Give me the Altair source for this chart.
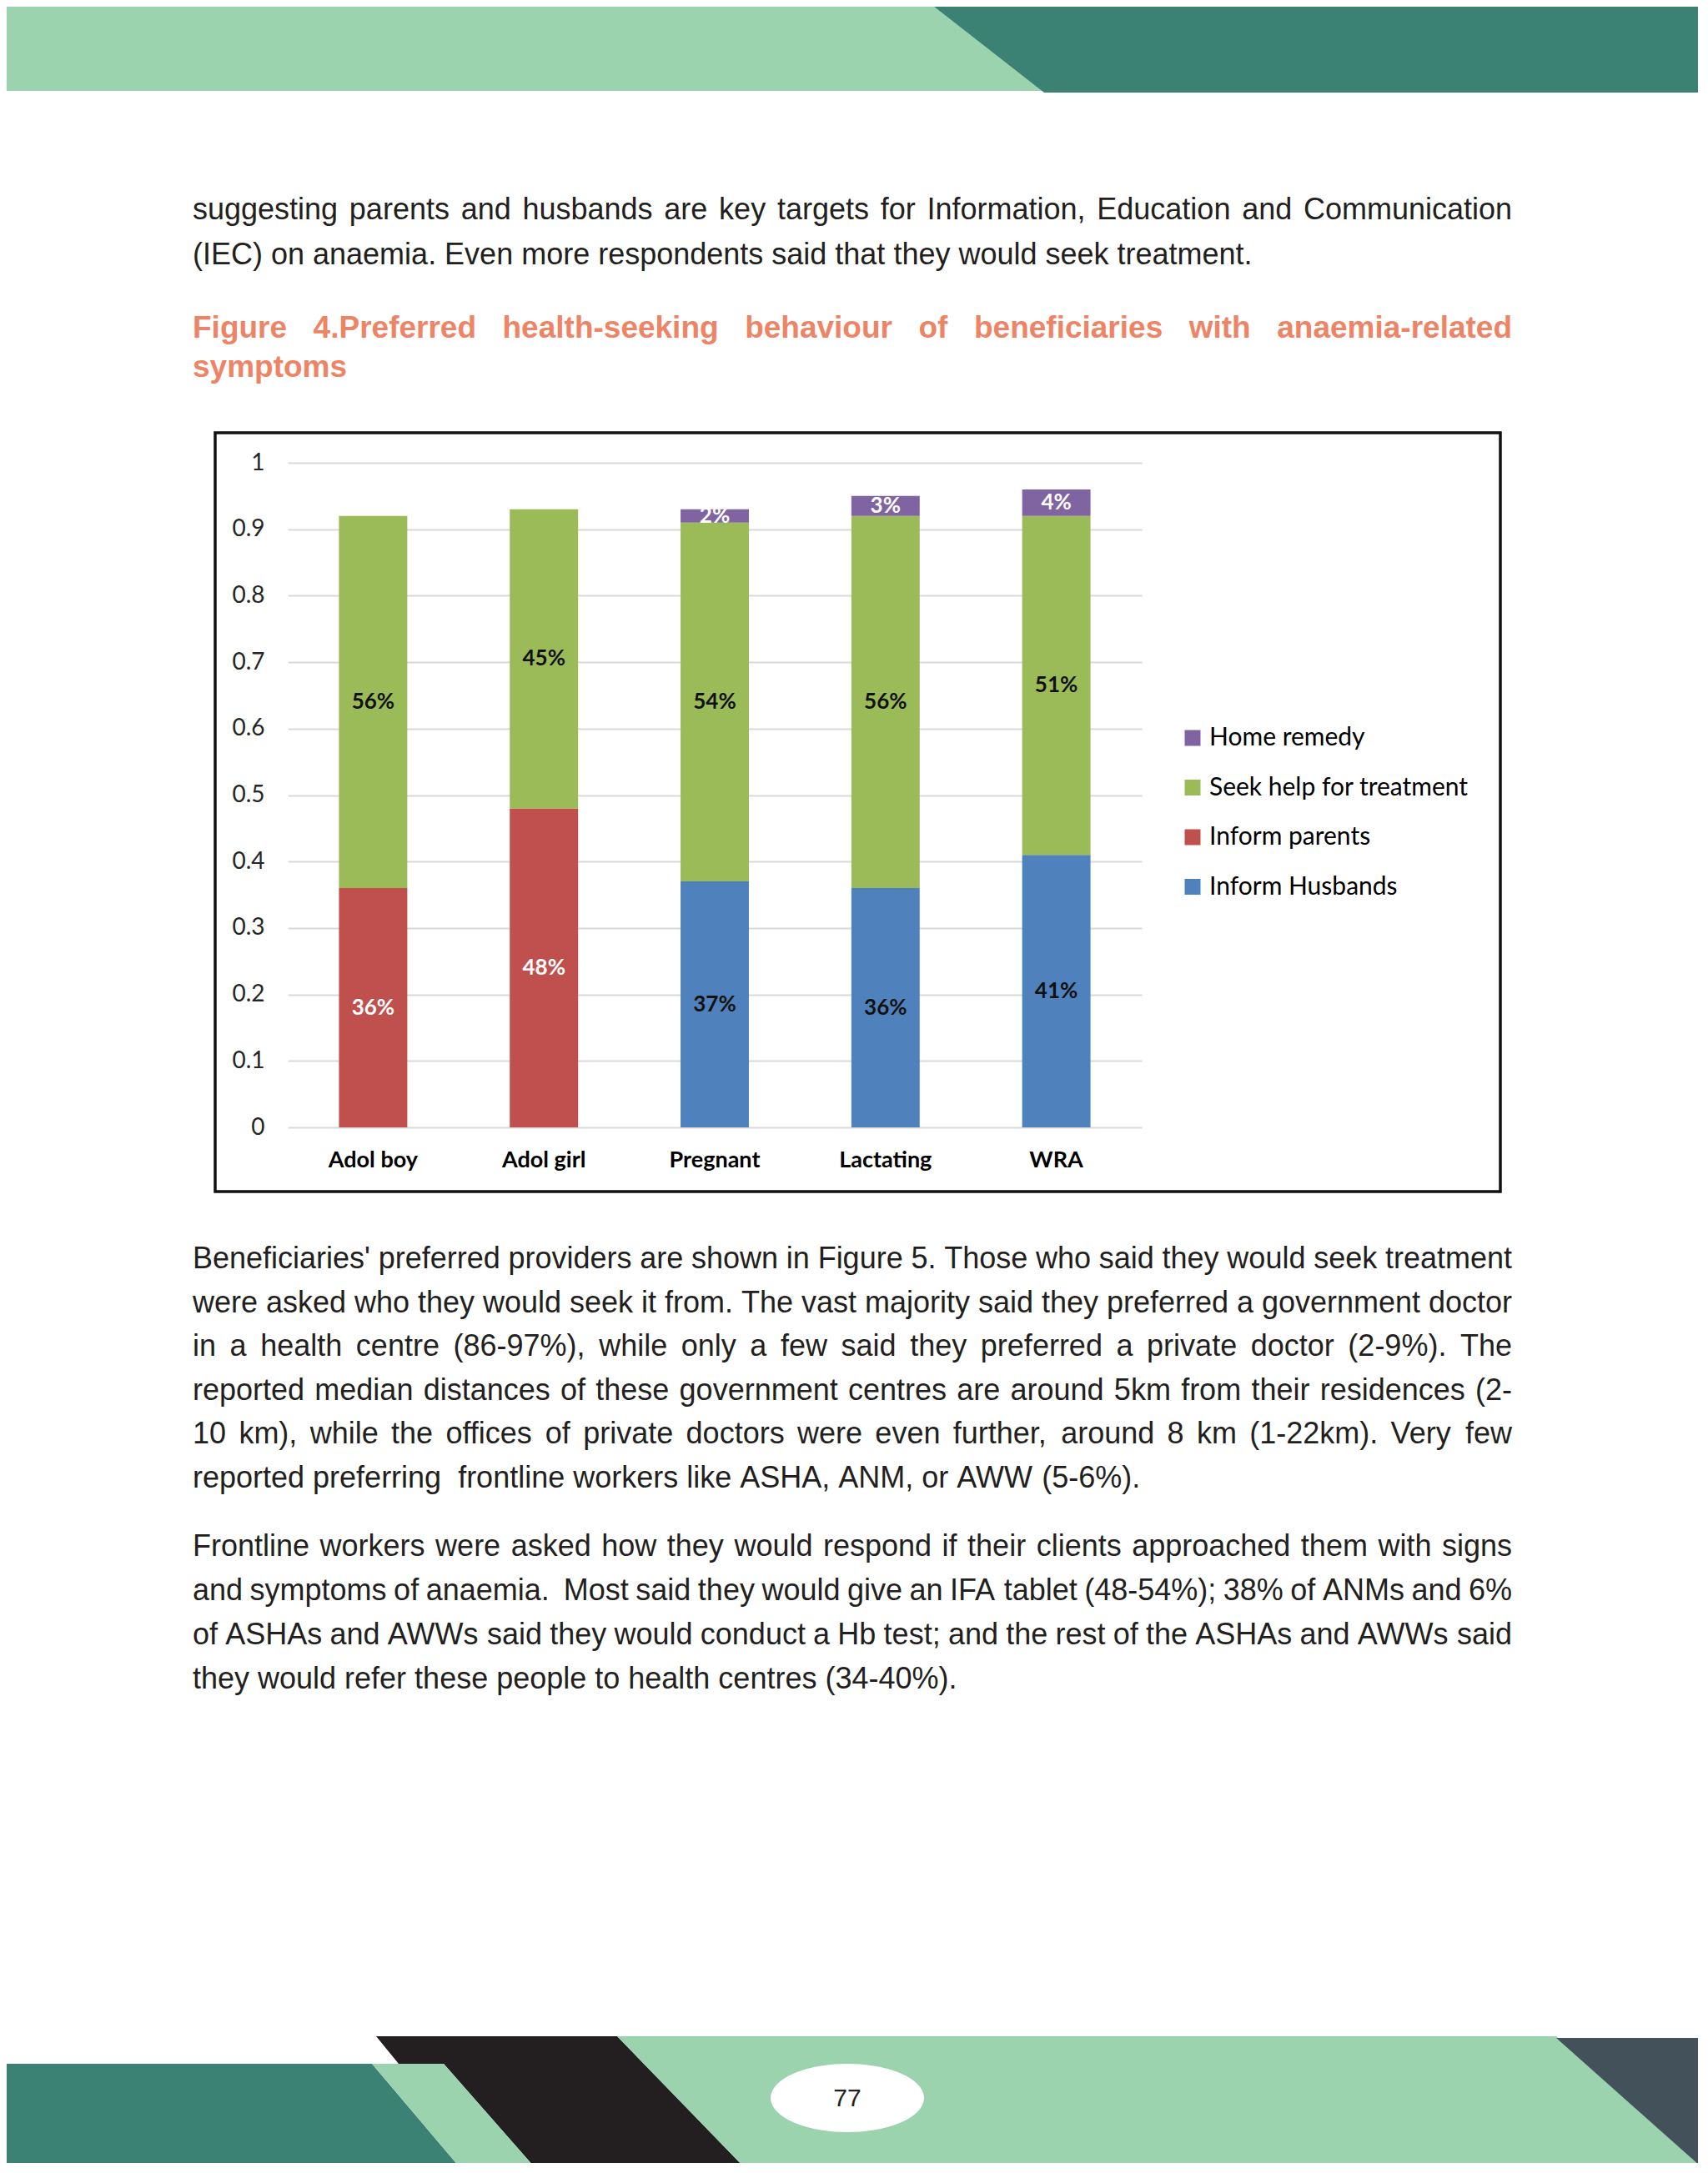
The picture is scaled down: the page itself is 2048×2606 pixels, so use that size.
import math
import altair as alt
import pandas as pd

# ---------------- chart data ----------------
categories = ["Adol boy", "Adol girl", "Pregnant", "Lactating", "WRA"]
inform_husbands = [0.0, 0.0, 0.37, 0.36, 0.41]
inform_parents = [0.36, 0.48, 0.0, 0.0, 0.0]
seek_help = [0.56, 0.45, 0.54, 0.56, 0.51]
home_remedy = [0.0, 0.0, 0.02, 0.03, 0.04]

series_names = ["Inform Husbands", "Inform parents", "Seek help for treatment", "Home remedy"]
series_colors = ["#4F81BD", "#C0504D", "#9BBB59", "#8064A2"]
label_is_light = [False, True, False, True]
y_ticks = [0, 0.1, 0.2, 0.3, 0.4, 0.5, 0.6, 0.7, 0.8, 0.9, 1.0]

# ---------------- page text ----------------
para_top = [
    "suggesting parents and husbands are key targets for Information, Education and Communication",
    "(IEC) on anaemia. Even more respondents said that they would seek treatment.",
]
caption_lines = [
    "Figure 4.Preferred health-seeking behaviour of beneficiaries with anaemia-related",
    "symptoms",
]
para_two = [
    "Beneficiaries' preferred providers are shown in Figure 5. Those who said they would seek treatment",
    "were asked who they would seek it from. The vast majority said they preferred a government doctor",
    "in a health centre (86-97%), while only a few said they preferred a private doctor (2-9%). The",
    "reported median distances of these government centres are around 5km from their residences (2-",
    "10 km), while the offices of private doctors were even further, around 8 km (1-22km). Very few",
    "reported preferring  frontline workers like ASHA, ANM, or AWW (5-6%).",
]
para_three = [
    "Frontline workers were asked how they would respond if their clients approached them with signs",
    "and symptoms of anaemia.  Most said they would give an IFA tablet (48-54%); 38% of ANMs and 6%",
    "of ASHAs and AWWs said they would conduct a Hb test; and the rest of the ASHAs and AWWs said",
    "they would refer these people to health centres (34-40%).",
]
page_number = "77"

# ---------------- layout (page pixels) ----------------
PX, PY = 345, 555          # plot-area origin on the page
PLOT_W, PLOT_H = 1024, 797
TEXT_LEFT, TEXT_RIGHT = 231, 1813
BODY_FONT = "Liberation Sans"
BODY_SIZE = 36
CAP_SIZE = 37
CHART_FONT = "Lato"
INK = "#231f20"
CORAL = "#EE8466"
LIGHT_GREEN = "#9BD3AE"
TEAL = "#3B8275"
SLATE = "#43525A"

# Arial / Liberation Sans advance widths (1/1000 em)
_reg = {" ": 278, "'": 191, "(": 333, ")": 333, ",": 278, "-": 333, ".": 278, ";": 278, ":": 278, "%": 889,
        "A": 667, "B": 667, "C": 722, "D": 722, "E": 667, "F": 611, "G": 778, "H": 722, "I": 278, "J": 500,
        "K": 667, "L": 556, "M": 833, "N": 722, "O": 778, "P": 667, "Q": 778, "R": 722, "S": 667, "T": 611,
        "U": 722, "V": 667, "W": 944, "X": 667, "Y": 667, "Z": 611,
        "a": 556, "b": 556, "c": 500, "d": 556, "e": 556, "f": 278, "g": 556, "h": 556, "i": 222, "j": 222,
        "k": 500, "l": 222, "m": 833, "n": 556, "o": 556, "p": 556, "q": 556, "r": 333, "s": 500, "t": 278,
        "u": 556, "v": 500, "w": 722, "x": 500, "y": 500, "z": 500}
_bold = {" ": 278, "'": 238, "(": 333, ")": 333, ",": 278, "-": 333, ".": 278, ";": 333, ":": 333, "%": 889,
         "A": 722, "B": 722, "C": 722, "D": 722, "E": 667, "F": 611, "G": 778, "H": 722, "I": 278, "J": 556,
         "K": 722, "L": 611, "M": 833, "N": 722, "O": 778, "P": 667, "Q": 778, "R": 722, "S": 667, "T": 611,
         "U": 722, "V": 667, "W": 944, "X": 667, "Y": 667, "Z": 611,
         "a": 556, "b": 611, "c": 556, "d": 611, "e": 556, "f": 333, "g": 611, "h": 611, "i": 278, "j": 278,
         "k": 556, "l": 278, "m": 889, "n": 611, "o": 611, "p": 611, "q": 611, "r": 389, "s": 556, "t": 333,
         "u": 611, "v": 556, "w": 778, "x": 556, "y": 556, "z": 500}


def tw(s, table, size):
    return sum(table.get(ch, 556) for ch in s) * size / 1000.0


def set_lines(lines, baselines, table, size, justify_last=False):
    """Justified typesetting: one row per word, positions in plot coordinates."""
    rows = []
    for li, (line, base) in enumerate(zip(lines, baselines)):
        words = line.split(" ")
        last = li == len(lines) - 1
        widths = [tw(w, table, size) for w in words]
        if last and not justify_last:
            gap = table[" "] * size / 1000.0
        else:
            gap = (TEXT_RIGHT - TEXT_LEFT - sum(widths)) / max(1, len(words) - 1)
        x = TEXT_LEFT
        for w, wd in zip(words, widths):
            if w:
                rows.append({"word": w, "x": x - PX, "y": base - PY})
            x += wd + gap
    return rows


body_rows = []
body_rows += set_lines(para_top, [263, 317], _reg, BODY_SIZE)
body_rows += set_lines(para_two, [1521 + 52.6 * i for i in range(6)], _reg, BODY_SIZE)
body_rows += set_lines(para_three, [1866 + 53 * i for i in range(4)], _reg, BODY_SIZE)
caption_rows = set_lines(caption_lines, [405, 452], _bold, CAP_SIZE)

body_df = pd.DataFrame(body_rows)
caption_df = pd.DataFrame(caption_rows)

# ---------------- bar data ----------------
rows = []
series_values = [inform_husbands, inform_parents, seek_help, home_remedy]
for s, (name, vals) in enumerate(zip(series_names, series_values)):
    for cat, v in zip(categories, vals):
        if v > 0:
            rows.append({"cat": cat, "series": name, "value": v, "order": s,
                         "pct": f"{round(v * 100)}%", "light": label_is_light[s]})
df = pd.DataFrame(rows)

legend_order = series_names[::-1]
legend_colors = series_colors[::-1]

one = alt.Data(values=[{"k": 0}])


def poly(points, color):
    path = "M" + "L".join(f"{x:.1f},{y:.1f}" for x, y in points) + "Z"
    return alt.Chart(one).mark_point(shape=path, size=4, filled=True, color=color,
                                     opacity=1, strokeWidth=0).encode(
        x=alt.value(-PX), y=alt.value(-PY))


ellipse_pts = [(1016 + 92 * math.cos(2 * math.pi * k / 72), 2516 + 41 * math.sin(2 * math.pi * k / 72))
               for k in range(72)]

decor = [
    poly([(0, 0), (1260, 0), (1260, 109), (0, 109)], LIGHT_GREEN),
    poly([(1110, 0), (2048, 0), (2048, 111), (1252, 111)], TEAL),
    poly([(0, 2475), (446, 2475), (557, 2606), (0, 2606)], TEAL),
    poly([(451, 2442), (740, 2442), (899, 2606), (647, 2606), (532, 2475), (478, 2475)], INK),
    poly([(446, 2475), (532, 2475), (647, 2606), (557, 2606)], LIGHT_GREEN),
    poly([(740, 2442), (1866, 2442), (2048, 2606), (899, 2606)], LIGHT_GREEN),
    poly([(1866, 2444), (2048, 2444), (2048, 2606)], SLATE),
    poly(ellipse_pts, "#ffffff"),
]

page_num = alt.Chart(one).mark_text(font=BODY_FONT, fontSize=30, color=INK, align="center",
                                    baseline="middle").encode(
    x=alt.value(1016 - PX), y=alt.value(2517 - PY), text=alt.value(page_number))

body_text = alt.Chart(body_df).mark_text(font=BODY_FONT, fontSize=BODY_SIZE, color=INK, align="left",
                                         baseline="alphabetic").encode(
    x=alt.X("x:Q", scale=None, axis=None), y=alt.Y("y:Q", scale=None, axis=None), text="word:N")

caption_text = alt.Chart(caption_df).mark_text(font=BODY_FONT, fontSize=CAP_SIZE, fontWeight="bold",
                                               color=CORAL, align="left", baseline="alphabetic").encode(
    x=alt.X("x:Q", scale=None, axis=None), y=alt.Y("y:Q", scale=None, axis=None), text="word:N")

frame = alt.Chart(one).mark_rect(fillOpacity=0, stroke="#111111", strokeWidth=3.5).encode(
    x=alt.value(258 - PX), x2=alt.value(1799 - PX), y=alt.value(519 - PY), y2=alt.value(1429 - PY))

# ---------------- stacked bars ----------------
base = alt.Chart(df).transform_stack(
    stack="value", groupby=["cat"], sort=[alt.SortField("order", "ascending")], as_=["v0", "v1"]
).transform_calculate(mid="(datum.v0 + datum.v1) / 2")

x_enc = alt.X("cat:N", sort=categories, title=None,
              scale=alt.Scale(paddingInner=0.6, paddingOuter=0.3),
              axis=alt.Axis(labelAngle=0, labelFont=CHART_FONT, labelFontWeight="bold", labelFontSize=27,
                            labelColor="#000000", labelPadding=39, labelBaseline="middle",
                            domain=False, ticks=False, tickSize=0, grid=False))

bars = base.mark_bar().encode(
    x=x_enc,
    y=alt.Y("v0:Q", title=None, scale=alt.Scale(domain=[0, 1], nice=False),
            axis=alt.Axis(values=y_ticks, format=".1~f", grid=True, gridColor="#D9D9D9", gridWidth=2,
                          domain=False, ticks=False, tickSize=0, labelFont=CHART_FONT, labelFontSize=28,
                          labelColor="#262626", labelPadding=28)),
    y2="v1:Q",
    color=alt.Color("series:N", scale=alt.Scale(domain=legend_order, range=legend_colors),
                    legend=alt.Legend(title=None, orient="none", legendX=1070, legendY=315,
                                      symbolType="square", symbolSize=361, symbolStrokeWidth=0,
                                      symbolOpacity=1, labelFont=CHART_FONT, labelFontSize=30,
                                      labelColor="#000000", labelOffset=5, labelLimit=600,
                                      rowPadding=29.5, padding=0)),
)

labels_light = base.transform_filter("datum.light").mark_text(
    font=CHART_FONT, fontWeight="bold", fontSize=26, color="#ffffff", baseline="middle").encode(
    x=alt.X("cat:N", sort=categories), y=alt.Y("mid:Q"), text="pct:N")
labels_dark = base.transform_filter("!datum.light").mark_text(
    font=CHART_FONT, fontWeight="bold", fontSize=26, color="#111111", baseline="middle").encode(
    x=alt.X("cat:N", sort=categories), y=alt.Y("mid:Q"), text="pct:N")

chart = alt.layer(*decor, page_num, body_text, caption_text, frame, bars, labels_light, labels_dark).properties(
    width=PLOT_W, height=PLOT_H, autosize="none",
    padding={"left": PX - 8, "top": PY - 8, "right": 2028 - (PX - 8) - PLOT_W,
             "bottom": 2586 - (PY - 8) - PLOT_H},
    background="#ffffff",
).configure_view(strokeWidth=0)

chart.save("out.html", embed_options={"renderer": "svg", "actions": False})
